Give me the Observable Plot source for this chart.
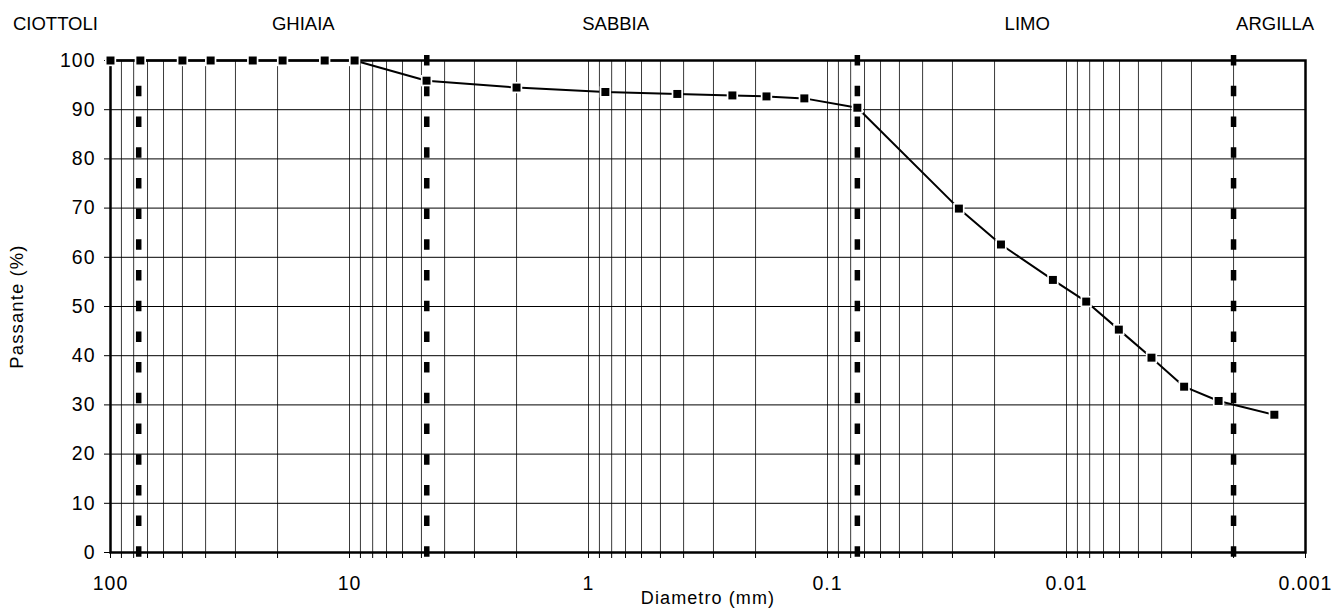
<!DOCTYPE html>
<html>
<head>
<meta charset="utf-8">
<script src="https://cdn.jsdelivr.net/npm/d3@7"></script>
<script src="https://cdn.jsdelivr.net/npm/@observablehq/plot@0.6"></script>
<style>
  html, body { margin: 0; padding: 0; background: #fff; }
  #chart svg { display: block; }
  #chart g[aria-label="x-axis tick label"] text,
  #chart g[aria-label="y-axis tick label"] text { letter-spacing: 1px; }
  #chart g.axis-title text { letter-spacing: 1.1px; }
</style>
</head>
<body>
<div id="chart"></div>
<script>
// --- data ---
const sieveDiameters = [100, 75, 50, 38.1, 25.4, 19.05, 12.7, 9.52, 4.76, 2.0, 0.85, 0.425, 0.25, 0.18, 0.125, 0.075];
const sievePassing   = [100, 100, 100, 100, 100, 100, 100, 100, 95.9, 94.5, 93.6, 93.2, 92.9, 92.7, 92.3, 90.4];
const hydroDiameters = [0.0282, 0.0188, 0.0114, 0.00827, 0.00604, 0.00441, 0.00322, 0.00231, 0.00135];
const hydroPassing   = [69.9, 62.6, 55.4, 51.0, 45.3, 39.6, 33.7, 30.8, 28.0];
const boundaries     = [76.2, 4.75, 0.075, 0.002];
const classNames     = ["CIOTTOLI", "GHIAIA", "SABBIA", "LIMO", "ARGILLA"];
const classLabelAt   = [170, 15.6, 0.77, 0.0146, 0.00134];
const xDecades       = [100, 10, 1, 0.1, 0.01, 0.001];
const xDecadeLabels  = ["100", "10", "1", "0.1", "0.01", "0.001"];
const yTicks         = [0, 10, 20, 30, 40, 50, 60, 70, 80, 90, 100];

// build tables
const points = sieveDiameters.map((d, i) => ({d, p: sievePassing[i]}))
  .concat(hydroDiameters.map((d, i) => ({d, p: hydroPassing[i]})));
const classes = classNames.map((name, i) => ({name, x: classLabelAt[i]}));

// minor log gridlines 1..9 x 10^k between the decades
const minor = [];
for (let k = 0; k < xDecades.length - 1; k++) {
  const base = xDecades[k + 1];
  for (let m = 1; m <= 9; m++) minor.push(+(base * m).toPrecision(6));
}
minor.push(100);
const labelOf = new Map(xDecades.map((v, i) => [v, xDecadeLabels[i]]));

const font = "'Liberation Sans', Arial, sans-serif";

const chart = Plot.plot({
  width: 1344,
  height: 610,
  marginLeft: 110,
  marginRight: 39,
  marginTop: 60,
  marginBottom: 58,
  style: {fontFamily: font, background: "#fff", color: "#000"},
  x: {type: "log", domain: [100, 0.001]},
  y: {domain: [0, 100]},
  marks: [
    Plot.gridX(minor, {stroke: "#3a3a3a", strokeOpacity: 1, strokeWidth: 1}),
    Plot.gridY(yTicks, {stroke: "#000", strokeOpacity: 1, strokeWidth: 1}),
    Plot.axisY({ticks: yTicks, tickSize: 6, tickPadding: 9, fontSize: 19.5, label: null}),
    Plot.axisX({ticks: minor, tickSize: 6, tickPadding: 18, fontSize: 19.5, label: null,
      tickFormat: (d) => labelOf.has(d) ? labelOf.get(d) : ""}),
    Plot.frame({stroke: "#000", strokeWidth: 2.5}),
    Plot.ruleX(boundaries, {y1: 101, y2: -1, stroke: "#000", strokeWidth: 5.5, strokeDasharray: "10.5,20.2"}),
    Plot.line(points, {x: "d", y: "p", stroke: "#000", strokeWidth: 2}),
    Plot.dot(points, {x: "d", y: "p", symbol: "square", r: 6.4, fill: "#fff", stroke: "none"}),
    Plot.dot(points, {x: "d", y: "p", symbol: "square", r: 4.5, fill: "#000", stroke: "none"}),
    Plot.text(classes, {x: "x", frameAnchor: "top", lineAnchor: "middle", dy: -36, text: "name", fontSize: 18.5, fill: "#000"}),
    Plot.text(["Diametro (mm)"], {frameAnchor: "bottom", lineAnchor: "middle", textAnchor: "middle", dy: 46, fontSize: 18, fill: "#000", className: "axis-title"}),
    Plot.text(["Passante (%)"], {frameAnchor: "left", lineAnchor: "middle", textAnchor: "middle", dx: -93, rotate: -90, fontSize: 18.5, fill: "#000", className: "axis-title"})
  ]
});
document.getElementById("chart").appendChild(chart);
</script>
</body>
</html>
